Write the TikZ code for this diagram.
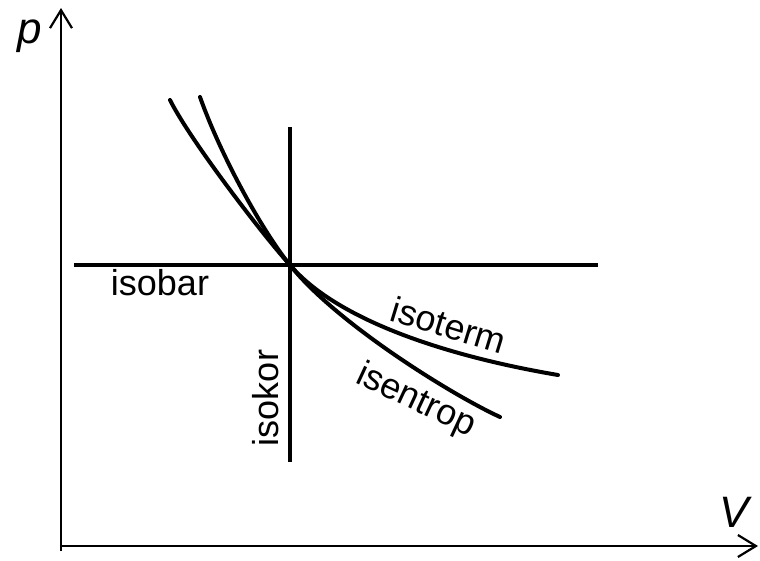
\documentclass[tikz,border=0pt]{standalone}
\usepackage{fontspec}
\setmainfont{Liberation Sans}
\usetikzlibrary{arrows.meta,positioning}

\begin{document}
\begin{tikzpicture}[x=1pt,y=-1pt,
    axis/.style={line width=2.2pt,-{Straight Barb[length=18pt,width=22pt,line width=2.2pt]}},
    stateline/.style={line width=4.5pt},
    curve/.style={line width=4pt,line cap=round,line join=round},
    lbl/.style={font=\fontsize{36}{36}\selectfont,inner sep=0pt},
    axlbl/.style={font=\fontsize{44}{44}\selectfont\itshape,inner sep=0pt},
  ]
  \useasboundingbox (0,0) rectangle (760,560);
  % axes
  \coordinate (O) at (61,546);
  \coordinate (ybot) at (61,551);
  \coordinate (ytop) at (61,8);
  \coordinate (xend) at (758,546);
  \draw[axis] (ybot) -- (ytop);
  \draw[axis] (O) -- (xend);
  \node[axlbl] (plbl) at (30,36) {p};
  \node[axlbl] (vlbl) at (734,512) {V};
  % state point and isolines
  \coordinate (S) at (290,265);
  \coordinate (bar1) at (74,265);
  \coordinate (bar2) at (598,265);
  \coordinate (kor1) at (290,127);
  \coordinate (kor2) at (290,462);
  \coordinate (therm1) at (200,97);
  \coordinate (therm2) at (558,375);
  \coordinate (trop1) at (170,100);
  \coordinate (trop2) at (500,417);
  \draw[stateline] (bar1) -- (bar2);
  \draw[stateline] (kor1) -- (kor2);
  \draw[curve] (therm1) .. controls (222,159) and (265,235) .. (S)
    .. controls (335,318) and (440,355) .. (therm2);
  \draw[curve] (trop1) .. controls (190,140) and (262,234) .. (S)
    .. controls (335,322) and (450,394) .. (trop2);
  % labels
  \node[lbl] (isobar) at (160,283) {isobar};
  \node[lbl,rotate=90] (isokor) at (266,398) {isokor};
  \node[lbl,rotate=-17] (isoterm) at (449,325) {isoterm};
  \node[lbl,rotate=-25] (isentrop) at (416,401) {isentrop};
\end{tikzpicture}
\end{document}
